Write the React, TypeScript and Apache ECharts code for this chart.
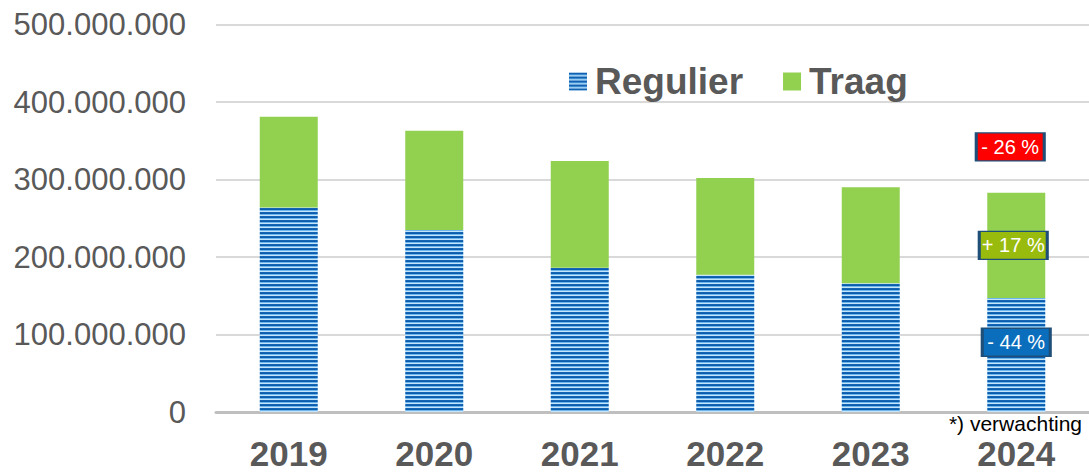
import React, { useEffect, useRef } from "react";
import * as echarts from "echarts";

const years = ["2019", "2020", "2021", "2022", "2023", "2024"];
const regulier = [264e6, 235e6, 186e6, 177e6, 166e6, 147e6];
const traag = [117e6, 128e6, 138e6, 125e6, 124e6, 136e6];
const yTicks = { min: 0, max: 500e6, interval: 100e6 };
// annotations on the 2024 column: [text, value position, fill colour]
const annTexts = ["- 26 %", "+ 17 %", "- 44 %"];
const annValues = [342e6, 215e6, 90e6];
const annColors = ["#ff0000", "#99bb0e", "#0a6ebd"];
const annXOffsets = [-6, -3, 0];
const footnote = "*) verwachting";

function fmt(v: number): string {
  return String(Math.round(v)).replace(/\B(?=(\d{3})+(?!\d))/g, ".");
}

function makeStripe(): HTMLCanvasElement {
  const c = document.createElement("canvas");
  c.width = 8;
  c.height = 4;
  const ctx = c.getContext("2d")!;
  const rows = ["#1565b5", "#0a5dae", "#6fb6ea", "#c4e4fa"];
  rows.forEach((col, i) => {
    ctx.fillStyle = col;
    ctx.fillRect(0, i, 8, 1);
  });
  return c;
}

const FONT = "Liberation Sans, Arial, sans-serif";

export default function App() {
  const ref = useRef<HTMLDivElement>(null);
  useEffect(() => {
    if (!ref.current) return;
    const chart = echarts.init(ref.current, null, { renderer: "svg" });
    const stripe = makeStripe();
    const pattern: any = { image: stripe, repeat: "repeat", imageWidth: 8, imageHeight: 4 };
    chart.setOption({
      animation: false,
      grid: { left: 216, right: 0, top: 24.5, bottom: 60, containLabel: false },
      legend: {
        left: 564,
        top: 58,
        itemWidth: 18,
        itemHeight: 18,
        itemGap: 40,
        icon: "rect",
        data: ["Regulier", "Traag"],
        textStyle: {
          fontFamily: FONT,
          fontSize: 37,
          fontWeight: "bold",
          color: "#595959",
          padding: [0, 0, 0, 3],
        },
      },
      xAxis: {
        type: "category",
        data: years,
        axisLine: { show: true, lineStyle: { color: "#bfbfbf", width: 3 } },
        axisTick: { show: false },
        axisLabel: {
          margin: 26,
          lineHeight: 30,
          fontFamily: FONT,
          fontSize: 35,
          fontWeight: "bold",
          color: "#595959",
        },
      },
      yAxis: {
        type: "value",
        min: yTicks.min,
        max: yTicks.max,
        interval: yTicks.interval,
        axisLine: { show: false },
        axisTick: { show: false },
        splitLine: { lineStyle: { color: "#d9d9d9", width: 2 } },
        axisLabel: {
          margin: 30,
          formatter: (v: number) => fmt(v),
          fontFamily: FONT,
          fontSize: 31,
          color: "#595959",
        },
      },
      series: [
        {
          name: "Regulier",
          type: "bar",
          stack: "total",
          barWidth: 58,
          data: regulier,
          itemStyle: { color: pattern },
        },
        {
          name: "Traag",
          type: "bar",
          stack: "total",
          barWidth: 58,
          data: traag,
          itemStyle: { color: "#92d050" },
          markPoint: {
            symbol: "rect",
            symbolSize: [68, 28],
            data: annTexts.map((t, i) => ({
              coord: ["2024", annValues[i]],
              symbolOffset: [annXOffsets[i], 0],
              itemStyle: { color: annColors[i], borderColor: "#1f4e79", borderWidth: 2 },
              label: {
                show: true,
                position: "inside",
                formatter: t,
                color: "#ffffff",
                fontSize: 20,
                fontFamily: FONT,
              },
            })),
          },
        },
      ],
      graphic: [
        {
          type: "text",
          right: 7,
          top: 413,
          style: {
            text: footnote,
            fontSize: 21,
            fontFamily: FONT,
            fill: "#000000",
          },
        },
      ],
    });
    return () => chart.dispose();
  }, []);
  return <div ref={ref} style={{ width: 1089, height: 472, position: "absolute", left: 0, top: 0 }} />;
}
